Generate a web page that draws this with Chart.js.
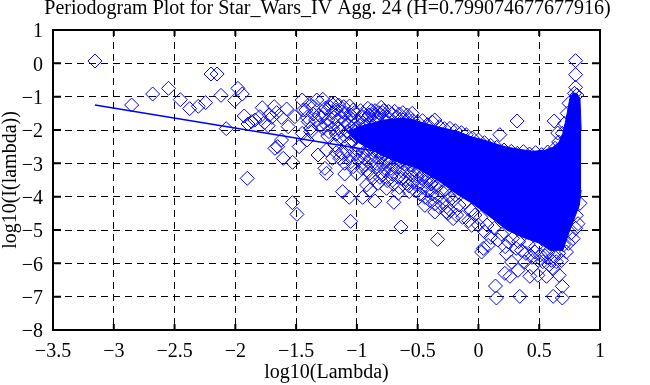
<!DOCTYPE html>
<html>
<head>
<meta charset="utf-8">
<title>Periodogram</title>
<script src="https://cdn.jsdelivr.net/npm/chart.js@4/dist/chart.umd.min.js"></script>
<style>
body { margin: 0; background: #fff; }
canvas { display: block; }
</style>
</head>
<body>
<canvas id="myChart" width="650" height="385"></canvas>
<script>
const titleText = 'Periodogram Plot for Star_Wars_IV Agg. 24 (H=0.799074677677916)';
const xLabel = 'log10(Lambda)';
const yLabel = 'log10(I(lambda))';

// fitted line, end points
const fitLine = [[-3.155, -1.25], [0.8, -3.62]];

// the part of the cloud that is solid blue in the picture
const cloudTop = [
    [-1.08, -2.05], [-0.98, -1.90], [-0.88, -1.80], [-0.78, -1.70], [-0.63, -1.65], [-0.548, -1.68],
    [-0.441, -1.80], [-0.317, -1.92], [-0.17, -2.04], [-0.07, -2.19], [0.053, -2.31],
    [0.151, -2.43], [0.242, -2.52], [0.34, -2.58], [0.44, -2.64], [0.546, -2.61],
    [0.612, -2.52], [0.661, -2.37], [0.694, -2.1], [0.719, -1.7], [0.735, -1.4],
    [0.752, -1.05], [0.776, -0.90], [0.809, -0.90], [0.835, -1.05], [0.845, -2.0]
];
const cloudBottom = [
    [-1.08, -2.05], [-1.0, -2.35], [-0.877, -2.60], [-0.77, -2.80], [-0.646, -2.98], [-0.498, -3.16],
    [-0.317, -3.55], [-0.17, -3.94], [-0.046, -4.21], [0.094, -4.6],
    [0.234, -5.0], [0.365, -5.22], [0.505, -5.40], [0.587, -5.61], [0.694, -5.61],
    [0.752, -5.0], [0.83, -4.26], [0.845, -3.8]
];

// single diamonds, left side up to lambda = -1.5
const sparsePoints = [
    [-3.155, 0.07], [-2.853, -1.25], [-2.68, -0.92], [-2.55, -0.75], [-2.453, -1.09],
    [-2.376, -1.36], [-2.305, -1.29], [-2.245, -1.18], [-2.2, -0.32], [-2.15, -0.32],
    [-2.118, -0.96], [-2.075, -1.96], [-2.006, -1.12], [-1.979, -0.75], [-1.943, -0.92],
    [-1.902, -3.45], [-1.927, -1.58], [-1.866, -1.75], [-1.896, -1.82], [-1.839, -1.70],
    [-1.798, -1.60], [-1.779, -1.33], [-1.73, -1.87], [-1.76, -1.78], [-1.68, -1.30],
    [-1.62, -1.62], [-1.652, -2.50], [-1.674, -2.55], [-1.62, -2.30], [-1.606, -2.85],
    [-1.529, -2.97], [-1.565, -1.90], [-1.578, -1.37], [-1.51, -1.60], [-1.475, -2.50],
    [-1.53, -4.18], [-1.493, -4.53], [-1.70, -1.62], [-1.66, -1.48], [-1.72, -1.55]
];

// middle of the plot, -1.5 to -0.7
const middlePoints = [
    [-1.32, -2.75], [-1.263, -3.15], [-1.45, -1.10], [-1.42, -1.40], [-1.40, -1.75],
    [-1.38, -1.95], [-1.36, -1.30], [-1.33, -1.10], [-1.31, -1.55], [-1.30, -1.85],
    [-1.28, -1.08], [-1.26, -1.35], [-1.24, -1.70], [-1.23, -2.05], [-1.21, -1.20],
    [-1.20, -1.48], [-1.18, -1.19], [-1.16, -1.70], [-1.15, -1.95], [-1.14, -2.25],
    [-1.12, -1.45], [-1.10, -1.75], [-1.08, -2.05], [-1.07, -2.40], [-1.05, -1.55],
    [-1.03, -1.40], [-1.02, -1.85], [-1.00, -2.20], [-0.98, -2.55], [-0.96, -1.62],
    [-0.94, -1.90], [-0.92, -2.10], [-0.90, -1.55], [-0.88, -1.42], [-0.86, -1.75],
    [-1.45, -2.10], [-1.41, -2.30], [-1.38, -2.05], [-1.25, -2.60], [-1.20, -2.85],
    [-1.18, -2.45], [-1.12, -2.70], [-1.10, -3.00], [-1.06, -2.80], [-1.03, -3.10],
    [-0.99, -2.90], [-0.95, -2.70], [-0.93, -3.05], [-0.89, -2.85], [-0.86, -2.62],
    [-0.84, -3.00], [-0.80, -2.80], [-0.76, -2.95], [-0.72, -3.15], [-0.68, -2.95],
    [-1.25, -3.30], [-1.10, -3.32], [-1.00, -3.30], [-0.893, -3.30], [-0.79, -3.35],
    [-0.72, -3.41], [-0.632, -3.45], [-0.92, -3.65], [-0.825, -3.60], [-0.59, -3.60],
    [-0.893, -3.80], [-0.756, -3.75], [-0.66, -3.90], [-0.57, -3.85], [-1.118, -3.85],
    [-1.063, -4.02], [-0.953, -4.02], [-0.852, -4.13], [-0.696, -4.17], [-1.052, -4.74],
    [-0.638, -4.91], [-0.336, -5.28], [-0.80, -1.32], [-0.79, -1.48], [-0.75, -1.60],
    [-0.71, -1.52], [-0.67, -1.62], [-0.83, -1.60], [-0.622, -1.48], [-0.585, -1.55],
    [-0.545, -1.50]
];

// dense mesh above the fit line, left of the solid part
const upperMeshPoints = [
    [-1.29, -1.62], [-1.27, -1.50], [-1.25, -1.85], [-1.22, -1.32], [-1.19, -1.62],
    [-1.17, -1.40], [-1.15, -1.25], [-1.13, -1.60], [-1.11, -1.30], [-1.09, -1.50],
    [-1.07, -1.85], [-1.06, -1.28], [-1.04, -1.68], [-1.02, -1.48], [-1.01, -2.05],
    [-0.99, -1.72], [-0.97, -1.42], [-0.95, -1.78], [-0.94, -1.52], [-0.92, -1.65],
    [-0.91, -1.35], [-0.89, -1.80], [-0.87, -1.55], [-0.85, -1.42], [-0.84, -1.82],
    [-0.82, -1.48], [-0.78, -1.42], [-0.76, -1.72], [-0.74, -1.44], [-0.69, -1.44],
    [-0.65, -1.52], [-1.28, -1.95], [-1.24, -2.18], [-1.20, -1.95], [-1.17, -2.12],
    [-1.13, -2.02], [-1.10, -2.18], [-1.06, -2.10], [-1.04, -2.30], [-1.01, -1.95],
    [-1.34, -1.70], [-1.36, -1.52], [-1.39, -1.22], [-1.41, -1.62], [-1.44, -1.40]
];

// diagonal mesh under the solid part
const lowerMeshPoints = [
    [-1.17, -2.68], [-1.14, -2.85], [-1.08, -2.62], [-1.05, -2.95], [-1.01, -2.72],
    [-0.97, -2.48], [-0.96, -3.15], [-0.94, -2.85], [-0.91, -2.62], [-0.91, -3.25],
    [-0.88, -3.05], [-0.87, -3.45], [-0.85, -2.80], [-0.83, -3.18], [-0.82, -2.62],
    [-0.81, -3.42], [-0.79, -3.02], [-0.78, -2.72], [-0.77, -3.22], [-0.75, -3.52],
    [-0.74, -2.85], [-0.73, -3.00], [-0.71, -3.32], [-0.70, -3.62], [-0.69, -2.78],
    [-0.67, -3.12], [-0.66, -3.42], [-0.65, -3.72], [-0.64, -2.95], [-0.62, -3.25],
    [-0.61, -3.02], [-0.60, -3.48], [-0.58, -3.12], [-0.57, -3.68], [-0.56, -3.32],
    [-0.55, -3.05], [-0.54, -3.55], [-0.53, -3.20], [-0.52, -3.82], [-0.51, -3.38],
    [-0.50, -3.62], [-0.49, -3.22], [-0.48, -3.92], [-0.47, -3.45], [-0.46, -3.72],
    [-0.45, -3.32], [-0.44, -4.02], [-0.43, -3.55], [-0.42, -3.82], [-0.41, -3.42],
    [-0.40, -4.12], [-0.39, -3.62], [-0.38, -3.92], [-0.37, -3.52], [-0.36, -4.22],
    [-0.35, -3.72], [-0.34, -4.02], [-0.33, -3.65], [-0.32, -4.32], [-0.30, -3.85],
    [-0.29, -4.15], [-0.27, -3.78], [-0.26, -4.30], [-0.24, -3.98], [-0.23, -4.42],
    [-0.21, -4.12], [-0.19, -3.95], [-0.18, -4.55], [-0.16, -4.25], [-0.13, -4.62],
    [-0.11, -4.18], [-0.08, -4.72], [-0.06, -4.40], [-0.03, -4.55], [0.00, -4.85],
    [0.02, -4.62], [0.05, -5.05], [0.07, -4.85], [0.10, -5.22], [0.13, -4.95]
];

// edge of the cloud on the top side
const topEdgePoints = [
    [-0.62, -1.70], [-0.58, -1.68], [-0.54, -1.72], [-0.50, -1.76], [-0.46, -1.72],
    [-0.42, -1.84], [-0.38, -1.76], [-0.359, -1.70], [-0.32, -1.90], [-0.28, -1.96],
    [-0.235, -1.95], [-0.19, -2.02], [-0.14, -2.08], [-0.10, -2.14], [-0.05, -2.24],
    [0.00, -2.30], [0.05, -2.38], [0.10, -2.46], [0.176, -2.14], [0.15, -2.52],
    [0.21, -2.60], [0.27, -2.64], [0.32, -2.70], [0.37, -2.65], [0.42, -2.72],
    [0.47, -2.68], [0.52, -2.74], [0.57, -2.66], [0.63, -2.55], [0.66, -2.36],
    [0.69, -2.10], [0.71, -1.80], [0.73, -1.50], [0.745, -1.20], [0.318, -1.73],
    [0.623, -1.73], [0.652, -2.09], [0.799, 0.08], [0.799, -0.34], [0.799, -0.72],
    [0.79, -0.90], [0.81, -0.95]
];

// edge of the cloud on the lower side
const lowerEdgePoints = [
    [-0.441, -4.26], [-0.359, -4.46], [-0.263, -4.46], [-0.25, -4.50], [-0.208, -4.66],
    [-0.056, -4.86], [0.026, -5.66], [0.04, -5.55], [0.08, -5.46], [0.231, -5.71],
    [0.217, -6.30], [0.259, -6.39], [0.325, -6.21], [0.423, -6.39], [0.489, -6.36],
    [0.56, -6.39], [0.664, -6.36], [0.437, -6.13], [0.615, -6.16], [0.272, -5.96],
    [0.381, -5.96], [0.492, -5.91], [0.60, -5.91], [0.683, -5.91], [0.354, -5.61],
    [0.464, -5.66], [0.574, -5.66], [0.724, -5.66], [0.779, -5.26], [0.805, -4.56],
    [0.819, -4.81], [0.246, -5.36], [0.148, -7.04], [0.14, -6.68], [0.34, -6.99],
    [0.615, -6.99], [0.69, -7.04], [0.69, -6.69], [0.16, -5.30], [0.19, -5.12],
    [0.22, -5.50], [0.28, -5.25], [0.31, -5.55], [0.33, -5.35], [0.39, -5.70],
    [0.41, -5.42], [0.44, -5.82], [0.47, -5.50], [0.51, -5.75], [0.53, -5.95],
    [0.55, -5.78], [0.58, -6.05], [0.62, -5.78], [0.64, -5.95], [0.66, -5.70],
    [0.70, -5.45], [0.74, -5.40], [0.76, -5.10], [0.80, -4.95], [0.835, -4.2]
];

const allPoints = sparsePoints.concat(middlePoints, upperMeshPoints, lowerMeshPoints, topEdgePoints, lowerEdgePoints);

const blue = '#0000ff';
const serif = '"Liberation Serif", "Times New Roman", serif';
const minus = v => String(v).replace('-', '\u2212');

function toXY(list) {
    return list.map(p => ({ x: p[0], y: p[1] }));
}

// gnuplot style frame, solid ticks pointing inwards on all four sides
const framePlugin = {
    id: 'frame',
    afterDraw(chart) {
        const { ctx, chartArea: a, scales } = chart;
        ctx.save();
        ctx.strokeStyle = '#000';
        ctx.lineWidth = 2;
        ctx.beginPath();
        scales.x.ticks.forEach((t, i) => {
            const px = scales.x.getPixelForTick(i);
            ctx.moveTo(px, a.bottom); ctx.lineTo(px, a.bottom - 6);
            ctx.moveTo(px, a.top); ctx.lineTo(px, a.top + 6);
        });
        scales.y.ticks.forEach((t, i) => {
            const py = scales.y.getPixelForTick(i);
            ctx.moveTo(a.left, py); ctx.lineTo(a.left + 8, py);
            ctx.moveTo(a.right, py); ctx.lineTo(a.right - 8, py);
        });
        ctx.rect(a.left, a.top, a.right - a.left, a.bottom - a.top);
        ctx.stroke();
        ctx.restore();
    }
};

const config = {
    type: 'scatter',
    data: {
        datasets: [
            {
                label: 'fit',
                data: toXY(fitLine),
                showLine: true,
                borderColor: blue,
                borderWidth: 1.5,
                pointRadius: 0
            },
            {
                label: 'cloud top',
                data: toXY(cloudTop),
                showLine: true,
                borderColor: blue,
                borderWidth: 1,
                backgroundColor: blue,
                pointRadius: 0,
                fill: '+1'
            },
            {
                label: 'cloud bottom',
                data: toXY(cloudBottom),
                showLine: true,
                borderColor: blue,
                borderWidth: 1,
                pointRadius: 0
            },
            {
                label: 'periodogram',
                data: toXY(allPoints),
                pointStyle: 'rectRot',
                pointRadius: 7,
                pointBorderWidth: 1,
                pointBorderColor: blue,
                pointBackgroundColor: 'rgba(0,0,0,0)'
            }
        ]
    },
    options: {
        responsive: false,
        animation: false,
        layout: { padding: { left: 5 } },
        plugins: {
            legend: { display: false },
            tooltip: { enabled: false },
            title: {
                display: true,
                text: titleText,
                color: '#000',
                font: { family: serif, size: 20, weight: 'normal' },
                padding: { top: -3, bottom: 9 }
            }
        },
        scales: {
            x: {
                type: 'linear',
                min: -3.5,
                max: 1,
                afterFit(scale) { scale.height = 55; },
                border: { display: false, dash: [7, 5] },
                grid: { color: '#000', lineWidth: 1, drawTicks: false },
                ticks: {
                    stepSize: 0.5,
                    color: '#000',
                    padding: 10,
                    maxRotation: 0,
                    font: { family: serif, size: 20 },
                    callback: minus
                },
                title: {
                    display: true,
                    text: xLabel,
                    color: '#000',
                    padding: 0,
                    font: { family: serif, size: 20 }
                }
            },
            y: {
                type: 'linear',
                min: -8,
                max: 1,
                afterFit(scale) { scale.width = 48; },
                border: { display: false, dash: [7, 5] },
                grid: { color: '#000', lineWidth: 1, drawTicks: false },
                ticks: {
                    stepSize: 1,
                    color: '#000',
                    padding: 10,
                    labelOffset: 2,
                    font: { family: serif, size: 20 },
                    callback: minus
                },
                title: {
                    display: true,
                    text: yLabel,
                    color: '#000',
                    padding: { top: -6, bottom: 0 },
                    font: { family: serif, size: 20 }
                }
            },
            // empty axis, only keeps the right margin while the title stays centred on the page
            margin: {
                type: 'linear',
                position: 'right',
                afterFit(scale) { scale.width = 50; },
                border: { display: false },
                grid: { display: false, drawTicks: false },
                ticks: { display: false }
            }
        }
    },
    plugins: [framePlugin]
};

const myChart = new Chart(document.getElementById('myChart'), config);
</script>
</body>
</html>
